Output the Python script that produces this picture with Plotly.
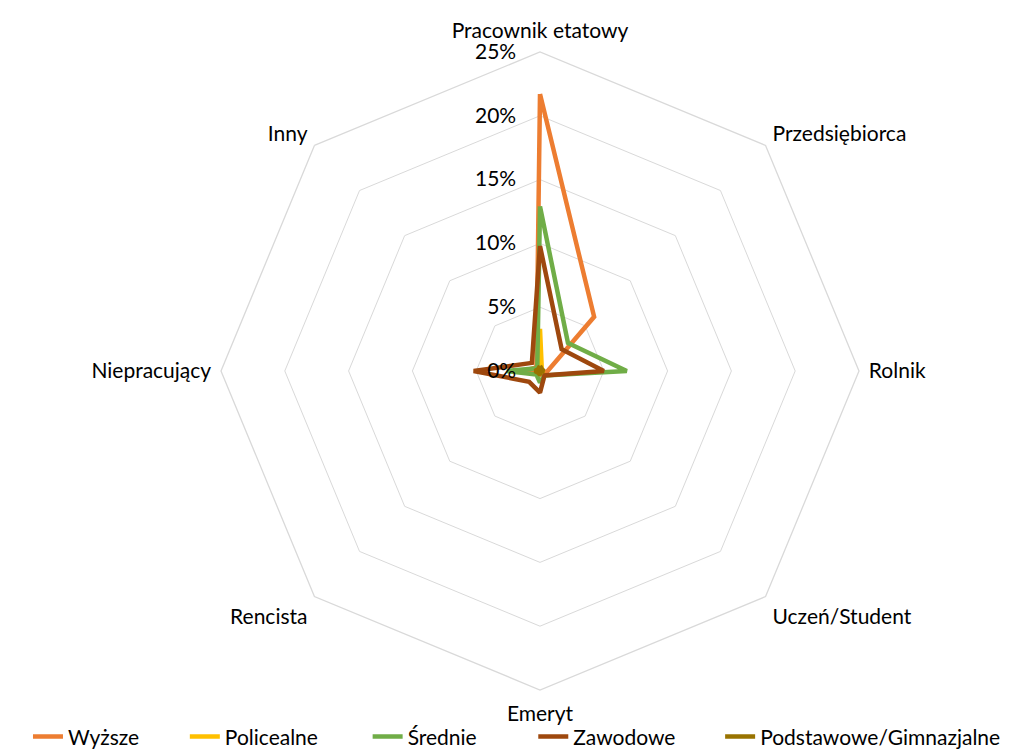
import plotly.graph_objects as go

categories = ["Pracownik etatowy", "Przedsiębiorca", "Rolnik", "Uczeń/Student",
              "Emeryt", "Rencista", "Niepracujący", "Inny"]
series_names = ["Wyższe", "Policealne", "Średnie", "Zawodowe", "Podstawowe/Gimnazjalne"]
wyzsze = [21.7, 6.0, 0.6, 0.3, 0.3, 0.3, 1.3, 0.4]
policealne = [3.3, 0.2, 0.2, 0.1, 0.1, 0.1, 0.3, 0.1]
srednie = [12.9, 3.1, 6.8, 0.5, 0.9, 0.4, 2.6, 0.3]
zawodowe = [9.8, 2.4, 5.0, 0.5, 1.7, 1.2, 5.2, 0.9]
podstawowe = [0.4, 0.2, 0.3, 0.1, 0.3, 0.2, 0.4, 0.2]
colors = ["#ED7D31", "#FFC000", "#70AD47", "#9E480E", "#997300"]
tick_vals = [0, 5, 10, 15, 20, 25]
tick_text = ["0%", "5%", "10%", "15%", "20%", "25%"]
legend_x = [0.0277, 0.183, 0.364, 0.528, 0.713]

FONT = "Lato"
FS = 21
fig = go.Figure()
all_series = [wyzsze, policealne, srednie, zawodowe, podstawowe]
for i, (name, vals, col) in enumerate(zip(series_names, all_series, colors)):
    lg = "legend" if i == 0 else f"legend{i+1}"
    fig.add_trace(go.Scatterpolar(
        r=vals + [vals[0]], theta=categories + [categories[0]],
        mode="lines", name=name, line=dict(color=col, width=4.5),
        legend=lg,
    ))

layout_legends = {}
for i, x in enumerate(legend_x):
    key = "legend" if i == 0 else f"legend{i+1}"
    layout_legends[key] = dict(
        x=x, y=-0.011, xanchor="left", yanchor="bottom", orientation="h",
        font=dict(family=FONT, size=FS, color="#000"),
        bgcolor="rgba(0,0,0,0)", itemwidth=30, tracegroupgap=0,
    )

fig.update_layout(
    width=1010, height=749,
    margin=dict(l=0, r=0, t=0, b=0, autoexpand=False),
    paper_bgcolor="white", plot_bgcolor="white",
    font=dict(family=FONT, size=FS, color="#000"),
    showlegend=True,
    polar=dict(
        domain=dict(x=[0.2188, 0.8505], y=[0.0788, 0.9306]),
        bgcolor="white",
        gridshape="linear",
        radialaxis=dict(
            range=[0, 25], tickvals=tick_vals, ticktext=tick_text,
            angle=90, side="counterclockwise", showline=False,
            gridcolor="#D9D9D9", gridwidth=1.3,
            ticks="outside", ticklen=16, tickcolor="rgba(0,0,0,0)", tickangle=90,
            tickfont=dict(family=FONT, size=FS, color="#000"),
        ),
        angularaxis=dict(
            rotation=90, direction="clockwise", showgrid=False,
            showline=True, linecolor="#D9D9D9", linewidth=1.3,
            ticks="outside", ticklen=5, tickcolor="rgba(0,0,0,0)",
            tickfont=dict(family=FONT, size=FS, color="#000"),
        ),
    ),
    **layout_legends,
)

fig.write_html("out.html", config={"displayModeBar": False},
               post_script="document.body.style.margin='0';")
